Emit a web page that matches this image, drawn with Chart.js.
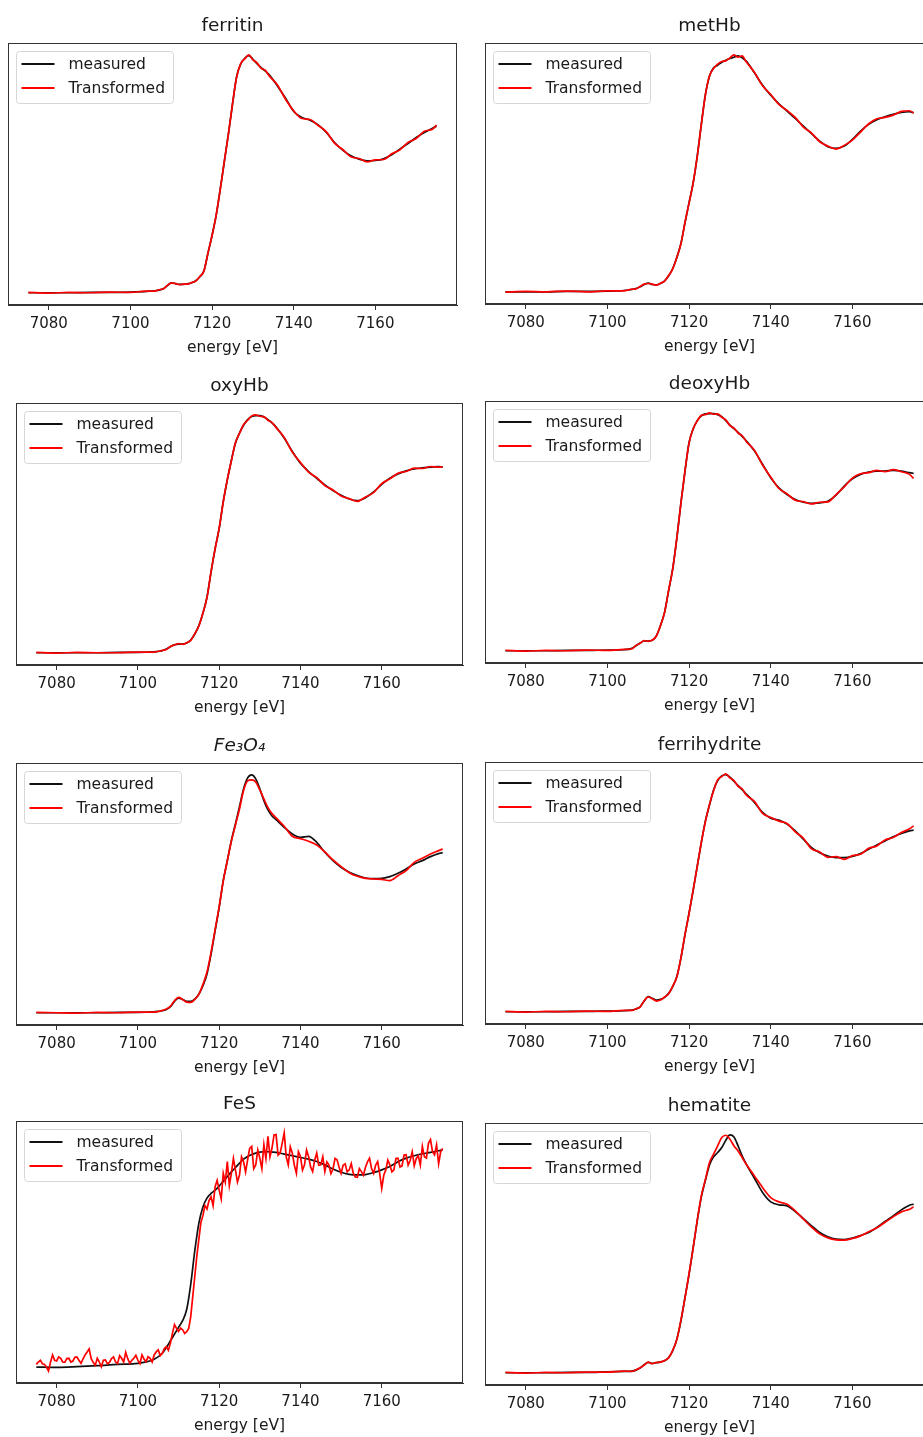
<!DOCTYPE html>
<html>
<head>
<meta charset="utf-8">
<title>measured vs Transformed XANES</title>
<script src="https://cdn.jsdelivr.net/npm/chart.js@4.4.0/dist/chart.umd.min.js"></script>
<style>
  html, body { margin: 0; padding: 0; background: #fff; }
  #page { position: relative; width: 923px; height: 1437px; overflow: hidden; }
  #page canvas { position: absolute; }
</style>
</head>
<body>
<div id="page"></div>
<script>
// energy grid (eV) shared by the smooth spectra
const energy = [7075, 7080, 7085, 7090, 7095, 7100, 7104, 7106,
  7107, 7108, 7109, 7110, 7111, 7112, 7113, 7114, 7115, 7116, 7117, 7118, 7119, 7120,
  7121, 7122, 7123, 7124, 7125, 7126, 7127, 7128, 7129, 7130, 7131, 7132, 7133, 7134,
  7136, 7138, 7140, 7142, 7144, 7146, 7148, 7150, 7152, 7154, 7156, 7158, 7160, 7162,
  7164, 7166, 7168, 7170, 7172, 7174, 7175];

const xTicks = [7080, 7100, 7120, 7140, 7160];

const ferritinMeasured = [0, 0, 0, 0.002, 0.002, 0.004, 0.008, 0.012,
  0.016, 0.024, 0.042, 0.060, 0.054, 0.050, 0.050, 0.054, 0.060, 0.072, 0.096, 0.132, 0.238, 0.346,
  0.464, 0.622, 0.788, 0.954, 1.132, 1.296, 1.372, 1.408, 1.424, 1.402, 1.376, 1.352, 1.332, 1.308,
  1.242, 1.168, 1.088, 1.052, 1.036, 1.008, 0.962, 0.902, 0.856, 0.822, 0.802, 0.792, 0.794, 0.804,
  0.828, 0.862, 0.896, 0.932, 0.962, 0.988, 1.000];
const ferritinTransformed = [0.002, -0.002, 0.002, 0, 0.004, 0.002, 0.010, 0.010,
  0.018, 0.022, 0.044, 0.058, 0.056, 0.048, 0.052, 0.052, 0.062, 0.070, 0.098, 0.130, 0.240, 0.344,
  0.466, 0.620, 0.790, 0.952, 1.134, 1.294, 1.376, 1.404, 1.428, 1.398, 1.380, 1.348, 1.336, 1.302,
  1.248, 1.162, 1.092, 1.046, 1.040, 1.004, 0.966, 0.898, 0.860, 0.816, 0.806, 0.786, 0.798, 0.800,
  0.834, 0.858, 0.902, 0.926, 0.970, 0.982, 1.006];

const metHbMeasured = [0, 0, 0, 0.002, 0.002, 0.004, 0.008, 0.014,
  0.020, 0.030, 0.044, 0.052, 0.044, 0.042, 0.050, 0.066, 0.096, 0.140, 0.206, 0.290, 0.416, 0.536,
  0.654, 0.816, 1.006, 1.186, 1.296, 1.346, 1.362, 1.380, 1.392, 1.402, 1.410, 1.418, 1.406, 1.386,
  1.316, 1.242, 1.182, 1.130, 1.086, 1.042, 0.996, 0.950, 0.906, 0.872, 0.862, 0.876, 0.916, 0.966,
  1.006, 1.034, 1.052, 1.066, 1.078, 1.082, 1.076];
const metHbTransformed = [-0.002, 0.002, 0, 0.004, 0, 0.006, 0.006, 0.016,
  0.018, 0.032, 0.046, 0.050, 0.046, 0.040, 0.052, 0.064, 0.098, 0.138, 0.208, 0.288, 0.418, 0.534,
  0.656, 0.814, 1.008, 1.184, 1.298, 1.342, 1.368, 1.384, 1.388, 1.406, 1.424, 1.410, 1.418, 1.382,
  1.320, 1.238, 1.186, 1.126, 1.090, 1.048, 0.990, 0.954, 0.902, 0.876, 0.858, 0.880, 0.912, 0.960,
  1.010, 1.040, 1.048, 1.062, 1.084, 1.088, 1.074];

const oxyHbMeasured = [0, 0, 0, 0, 0.002, 0.002, 0.006, 0.012,
  0.022, 0.036, 0.048, 0.052, 0.052, 0.058, 0.076, 0.112, 0.162, 0.236, 0.332, 0.482, 0.622, 0.742,
  0.902, 1.032, 1.148, 1.252, 1.312, 1.358, 1.392, 1.410, 1.416, 1.416, 1.408, 1.392, 1.372, 1.348,
  1.282, 1.202, 1.132, 1.082, 1.042, 1.002, 0.968, 0.940, 0.918, 0.908, 0.926, 0.960, 1.006, 1.042,
  1.068, 1.086, 1.098, 1.104, 1.108, 1.112, 1.108];
const oxyHbTransformed = [0.002, -0.002, 0.002, 0, 0, 0.004, 0.004, 0.014,
  0.020, 0.038, 0.046, 0.054, 0.050, 0.060, 0.074, 0.114, 0.160, 0.238, 0.330, 0.484, 0.620, 0.744,
  0.900, 1.034, 1.146, 1.254, 1.310, 1.362, 1.388, 1.414, 1.420, 1.412, 1.410, 1.388, 1.374, 1.344,
  1.286, 1.198, 1.136, 1.078, 1.046, 0.998, 0.972, 0.936, 0.920, 0.904, 0.930, 0.956, 1.010, 1.038,
  1.072, 1.082, 1.102, 1.100, 1.112, 1.108, 1.110];

const deoxyHbMeasured = [0, 0, 0, 0.002, 0.002, 0.004, 0.006, 0.014,
  0.030, 0.046, 0.058, 0.058, 0.062, 0.090, 0.150, 0.230, 0.360, 0.490, 0.670, 0.880, 1.070, 1.240,
  1.320, 1.370, 1.398, 1.410, 1.412, 1.412, 1.406, 1.394, 1.370, 1.344, 1.322, 1.300, 1.276, 1.250,
  1.190, 1.110, 1.030, 0.970, 0.930, 0.900, 0.884, 0.878, 0.880, 0.890, 0.926, 0.980, 1.024, 1.050,
  1.064, 1.070, 1.070, 1.074, 1.070, 1.060, 1.056];
const deoxyHbTransformed = [0.002, -0.002, 0.002, 0, 0.004, 0.002, 0.008, 0.012,
  0.032, 0.044, 0.060, 0.056, 0.064, 0.088, 0.152, 0.228, 0.362, 0.488, 0.672, 0.878, 1.072, 1.238,
  1.322, 1.368, 1.402, 1.406, 1.416, 1.408, 1.410, 1.390, 1.374, 1.340, 1.326, 1.296, 1.280, 1.246,
  1.194, 1.106, 1.034, 0.966, 0.934, 0.896, 0.888, 0.874, 0.884, 0.886, 0.930, 0.976, 1.028, 1.054,
  1.060, 1.074, 1.066, 1.078, 1.066, 1.050, 1.026];

const fe3o4Measured = [0, 0, 0, 0, 0.002, 0.002, 0.006, 0.012,
  0.020, 0.036, 0.068, 0.088, 0.080, 0.068, 0.068, 0.082, 0.112, 0.162, 0.232, 0.352, 0.492, 0.632,
  0.792, 0.912, 1.032, 1.132, 1.236, 1.342, 1.408, 1.426, 1.402, 1.342, 1.272, 1.216, 1.180, 1.158,
  1.112, 1.072, 1.052, 1.058, 1.022, 0.962, 0.912, 0.872, 0.842, 0.822, 0.808, 0.804, 0.806, 0.816,
  0.836, 0.862, 0.892, 0.912, 0.936, 0.954, 0.960];
const fe3o4Transformed = [0.002, 0, -0.002, 0.002, 0, 0.004, 0.004, 0.014,
  0.022, 0.040, 0.072, 0.092, 0.080, 0.064, 0.062, 0.080, 0.110, 0.170, 0.244, 0.362, 0.498, 0.636,
  0.790, 0.910, 1.028, 1.126, 1.222, 1.332, 1.390, 1.396, 1.384, 1.336, 1.282, 1.230, 1.194, 1.168,
  1.118, 1.058, 1.044, 1.028, 1.006, 0.964, 0.916, 0.876, 0.840, 0.818, 0.806, 0.802, 0.800, 0.792,
  0.822, 0.852, 0.902, 0.926, 0.952, 0.972, 0.982];

const ferrihydriteMeasured = [0, 0, 0, 0.002, 0.002, 0.004, 0.006, 0.010,
  0.016, 0.030, 0.064, 0.090, 0.080, 0.070, 0.074, 0.086, 0.110, 0.150, 0.210, 0.320, 0.460, 0.590,
  0.725, 0.870, 1.010, 1.140, 1.234, 1.324, 1.380, 1.408, 1.416, 1.400, 1.376, 1.350, 1.326, 1.300,
  1.250, 1.190, 1.156, 1.144, 1.120, 1.080, 1.030, 0.980, 0.950, 0.930, 0.920, 0.920, 0.928, 0.944,
  0.970, 0.996, 1.020, 1.044, 1.064, 1.080, 1.084];
const ferrihydriteTransformed = [0.002, -0.002, 0.002, 0, 0.004, 0.002, 0.008, 0.008,
  0.018, 0.028, 0.066, 0.088, 0.078, 0.064, 0.070, 0.088, 0.108, 0.154, 0.208, 0.322, 0.462, 0.588,
  0.728, 0.868, 1.012, 1.136, 1.238, 1.320, 1.384, 1.404, 1.420, 1.396, 1.380, 1.346, 1.330, 1.294,
  1.256, 1.184, 1.160, 1.138, 1.124, 1.074, 1.036, 0.972, 0.954, 0.922, 0.926, 0.910, 0.932, 0.940,
  0.976, 0.990, 1.026, 1.040, 1.070, 1.092, 1.110];

const fesMeasured = [0, -0.002, 0.002, 0.008, 0.016, 0.022, 0.046, 0.082,
  0.116, 0.156, 0.196, 0.236, 0.276, 0.342, 0.492, 0.692, 0.856, 0.952, 1.004, 1.032, 1.052, 1.076,
  1.104, 1.132, 1.160, 1.186, 1.212, 1.236, 1.252, 1.264, 1.272, 1.278, 1.280, 1.280, 1.278, 1.276,
  1.266, 1.256, 1.246, 1.236, 1.222, 1.202, 1.178, 1.158, 1.146, 1.142, 1.144, 1.156, 1.172, 1.192,
  1.220, 1.242, 1.256, 1.268, 1.276, 1.286, 1.292];
// the FeS transformed spectrum is noisy, so it keeps its own 0.5 eV grid
const fesTransformedEnergy = [
  7075, 7075.5, 7076, 7076.5, 7077, 7077.5, 7078, 7078.5, 7079, 7079.5,
  7080, 7080.5, 7081, 7081.5, 7082, 7082.5, 7083, 7083.5, 7084, 7084.5,
  7085, 7085.5, 7086, 7086.5, 7087, 7087.5, 7088, 7088.5, 7089, 7089.5,
  7090, 7090.5, 7091, 7091.5, 7092, 7092.5, 7093, 7093.5, 7094, 7094.5,
  7095, 7095.5, 7096, 7096.5, 7097, 7097.5, 7098, 7098.5, 7099, 7099.5,
  7100, 7100.5, 7101, 7101.5, 7102, 7102.5, 7103, 7103.5, 7104, 7104.5,
  7105, 7105.5, 7106, 7106.5, 7107, 7107.5, 7108, 7108.5, 7109, 7109.5,
  7110, 7110.5, 7111, 7111.5, 7112, 7112.5, 7113, 7113.5, 7114, 7114.5,
  7115, 7115.5, 7116, 7116.5, 7117, 7117.5, 7118, 7118.5, 7119, 7119.5,
  7120, 7120.5, 7121, 7121.5, 7122, 7122.5, 7123, 7123.5, 7124, 7124.5,
  7125, 7125.5, 7126, 7126.5, 7127, 7127.5, 7128, 7128.5, 7129, 7129.5,
  7130, 7130.5, 7131, 7131.5, 7132, 7132.5, 7133, 7133.5, 7134, 7134.5,
  7135, 7135.5, 7136, 7136.5, 7137, 7137.5, 7138, 7138.5, 7139, 7139.5,
  7140, 7140.5, 7141, 7141.5, 7142, 7142.5, 7143, 7143.5, 7144, 7144.5,
  7145, 7145.5, 7146, 7146.5, 7147, 7147.5, 7148, 7148.5, 7149, 7149.5,
  7150, 7150.5, 7151, 7151.5, 7152, 7152.5, 7153, 7153.5, 7154, 7154.5,
  7155, 7155.5, 7156, 7156.5, 7157, 7157.5, 7158, 7158.5, 7159, 7159.5,
  7160, 7160.5, 7161, 7161.5, 7162, 7162.5, 7163, 7163.5, 7164, 7164.5,
  7165, 7165.5, 7166, 7166.5, 7167, 7167.5, 7168, 7168.5, 7169, 7169.5,
  7170, 7170.5, 7171, 7171.5, 7172, 7172.5, 7173, 7173.5, 7174, 7174.5, 7175];
const fesTransformed = [
  0.016, 0.030, 0.040, 0.020, 0.016, 0.000, -0.024, 0.030, 0.072, 0.040,
  0.036, 0.060, 0.052, 0.030, 0.028, 0.050, 0.052, 0.030, 0.036, 0.058,
  0.060, 0.040, 0.022, 0.048, 0.072, 0.090, 0.108, 0.050, 0.028, 0.010,
  0.052, 0.030, 0.002, 0.040, 0.042, 0.018, 0.028, 0.050, 0.060, 0.030,
  0.022, 0.068, 0.052, 0.030, 0.088, 0.050, 0.022, 0.040, 0.052, 0.070,
  0.040, 0.020, 0.072, 0.048, 0.032, 0.062, 0.052, 0.030, 0.072, 0.090,
  0.102, 0.068, 0.082, 0.110, 0.122, 0.100, 0.142, 0.200, 0.252, 0.230,
  0.212, 0.232, 0.222, 0.200, 0.210, 0.230, 0.300, 0.420, 0.540, 0.660,
  0.760, 0.860, 0.900, 0.960, 0.940, 0.990, 1.012, 0.960, 1.072, 1.110,
  1.052, 1.000, 1.152, 1.100, 1.222, 1.080, 1.152, 1.240, 1.172, 1.100,
  1.142, 1.250, 1.222, 1.160, 1.232, 1.300, 1.312, 1.180, 1.202, 1.290,
  1.242, 1.180, 1.322, 1.240, 1.372, 1.250, 1.302, 1.380, 1.382, 1.260,
  1.272, 1.330, 1.392, 1.250, 1.202, 1.310, 1.272, 1.200, 1.152, 1.280,
  1.252, 1.170, 1.202, 1.290, 1.252, 1.190, 1.162, 1.230, 1.272, 1.200,
  1.202, 1.250, 1.162, 1.220, 1.202, 1.150, 1.176, 1.240, 1.232, 1.190,
  1.152, 1.200, 1.208, 1.160, 1.172, 1.210, 1.152, 1.130, 1.128, 1.180,
  1.162, 1.140, 1.188, 1.220, 1.242, 1.180, 1.152, 1.200, 1.222, 1.150,
  1.062, 1.140, 1.172, 1.230, 1.202, 1.160, 1.172, 1.240, 1.242, 1.190,
  1.196, 1.260, 1.262, 1.200, 1.228, 1.280, 1.196, 1.240, 1.256, 1.200,
  1.312, 1.250, 1.242, 1.330, 1.352, 1.280, 1.262, 1.320, 1.208, 1.280, 1.300];

const hematiteMeasured = [0, 0, 0, 0.002, 0.002, 0.006, 0.008, 0.010,
  0.016, 0.028, 0.048, 0.062, 0.056, 0.060, 0.066, 0.072, 0.092, 0.132, 0.202, 0.312, 0.452, 0.592,
  0.752, 0.912, 1.056, 1.156, 1.248, 1.296, 1.322, 1.352, 1.396, 1.428, 1.416, 1.362, 1.302, 1.252,
  1.168, 1.082, 1.026, 1.008, 1.002, 0.968, 0.926, 0.882, 0.842, 0.816, 0.802, 0.800, 0.808, 0.824,
  0.842, 0.872, 0.908, 0.942, 0.978, 1.006, 1.012];
const hematiteTransformed = [0.002, -0.002, 0.002, 0, 0.004, 0.004, 0.010, 0.008,
  0.018, 0.030, 0.046, 0.064, 0.054, 0.062, 0.064, 0.074, 0.090, 0.136, 0.200, 0.316, 0.450, 0.596,
  0.750, 0.916, 1.062, 1.160, 1.262, 1.312, 1.362, 1.412, 1.426, 1.402, 1.362, 1.332, 1.292, 1.252,
  1.182, 1.112, 1.052, 1.026, 1.012, 0.972, 0.922, 0.874, 0.834, 0.810, 0.798, 0.796, 0.806, 0.822,
  0.846, 0.870, 0.904, 0.936, 0.966, 0.982, 0.996];

// panel placement: [left, top, width, height] of each axes box in page pixels
const panels = [
  { title: 'ferritin', measured: ferritinMeasured, transformed: ferritinTransformed, box: [8, 43, 449, 262] },
  { title: 'metHb', measured: metHbMeasured, transformed: metHbTransformed, box: [485, 43, 449, 261] },
  { title: 'oxyHb', measured: oxyHbMeasured, transformed: oxyHbTransformed, box: [16, 403, 447, 262] },
  { title: 'deoxyHb', measured: deoxyHbMeasured, transformed: deoxyHbTransformed, box: [485, 401, 449, 262] },
  { title: 'Fe₃O₄', italic: true, measured: fe3o4Measured, transformed: fe3o4Transformed, box: [16, 763, 447, 262] },
  { title: 'ferrihydrite', measured: ferrihydriteMeasured, transformed: ferrihydriteTransformed, box: [485, 762, 449, 262] },
  { title: 'FeS', measured: fesMeasured, transformed: fesTransformed, transformedEnergy: fesTransformedEnergy, noisy: true, box: [16, 1121, 447, 262] },
  { title: 'hematite', measured: hematiteMeasured, transformed: hematiteTransformed, box: [485, 1123, 449, 262] }
];

const FONT = "'DejaVu Sans', sans-serif";
const TEXT = '#1a1a1a';
const TOP = 40, BOTTOM = 56, SIDE = 10;

function toPoints(xs, ys) {
  return xs.map((x, i) => ({ x: x, y: ys[i] }));
}

// matplotlib-style autoscale: 5% margin around the data
function yBounds(a, b) {
  const all = a.concat(b);
  const lo = Math.min(...all), hi = Math.max(...all);
  const pad = (hi - lo) * 0.05;
  return { min: lo - pad, max: hi + pad };
}

// full box around the axes
const frame = {
  id: 'frame',
  afterDatasetsDraw(chart) {
    const { ctx, chartArea: a } = chart;
    ctx.save();
    ctx.strokeStyle = '#333';
    ctx.lineWidth = 1;
    ctx.strokeRect(Math.round(a.left) + 0.5, Math.round(a.top) + 0.5,
      Math.round(a.width) - 1, Math.round(a.height) - 1);
    ctx.restore();
  }
};

// legend in the upper left corner of the axes
const legendBox = {
  id: 'legendBox',
  afterDatasetsDraw(chart) {
    const { ctx, chartArea: a } = chart;
    const x = Math.round(a.left) + 8.5, y = Math.round(a.top) + 8.5, w = 157, h = 52, r = 3;
    ctx.save();
    ctx.beginPath();
    ctx.moveTo(x + r, y);
    ctx.arcTo(x + w, y, x + w, y + h, r);
    ctx.arcTo(x + w, y + h, x, y + h, r);
    ctx.arcTo(x, y + h, x, y, r);
    ctx.arcTo(x, y, x + w, y, r);
    ctx.closePath();
    ctx.fillStyle = 'rgba(255,255,255,0.8)';
    ctx.fill();
    ctx.strokeStyle = '#d6d6d6';
    ctx.lineWidth = 1;
    ctx.stroke();
    chart.data.datasets.forEach((ds, i) => {
      const cy = y + 12.5 + i * 24;
      ctx.beginPath();
      ctx.moveTo(x + 5, cy);
      ctx.lineTo(x + 38, cy);
      ctx.strokeStyle = ds.borderColor;
      ctx.lineWidth = 2.2;
      ctx.stroke();
      ctx.fillStyle = TEXT;
      ctx.font = '15.5px ' + FONT;
      ctx.textBaseline = 'middle';
      ctx.fillText(ds.label, x + 52, cy + 1);
    });
    ctx.restore();
  }
};

const page = document.getElementById('page');

panels.forEach(p => {
  const [L, T, W, H] = p.box;
  const canvas = document.createElement('canvas');
  canvas.width = W + 2 * SIDE;
  canvas.height = TOP + H + BOTTOM;
  canvas.style.left = (L - SIDE) + 'px';
  canvas.style.top = (T - TOP) + 'px';
  page.appendChild(canvas);

  const yb = yBounds(p.measured, p.transformed);

  new Chart(canvas, {
    type: 'line',
    data: {
      datasets: [
        {
          label: 'measured',
          data: toPoints(energy, p.measured),
          borderColor: '#111111',
          borderWidth: 1.7,
          pointRadius: 0,
          cubicInterpolationMode: 'monotone',
          order: 1
        },
        {
          label: 'Transformed',
          data: toPoints(p.transformedEnergy || energy, p.transformed),
          borderColor: '#ff0000',
          borderWidth: 1.7,
          pointRadius: 0,
          cubicInterpolationMode: p.noisy ? 'default' : 'monotone',
          tension: 0,
          order: 0
        }
      ]
    },
    options: {
      responsive: false,
      animation: false,
      devicePixelRatio: 1,
      events: [],
      layout: { padding: { left: SIDE, right: SIDE, top: 0, bottom: 0 } },
      plugins: {
        legend: { display: false },
        tooltip: { enabled: false },
        title: {
          display: true,
          text: p.title,
          color: TEXT,
          font: { family: FONT, size: 18.5, weight: 'normal', style: p.italic ? 'italic' : 'normal', lineHeight: 1.2 },
          padding: { top: 12.5, bottom: 5.3 }
        }
      },
      scales: {
        x: {
          type: 'linear',
          min: 7070,
          max: 7180,
          afterBuildTicks: s => { s.ticks = xTicks.map(v => ({ value: v })); },
          afterFit: s => { s.height = BOTTOM; },
          ticks: {
            callback: v => String(v),
            color: TEXT,
            font: { family: FONT, size: 15 },
            padding: 5,
            maxRotation: 0,
            autoSkip: false
          },
          grid: { display: true, drawOnChartArea: false, drawTicks: true, tickLength: 5, color: '#333' },
          border: { display: true, color: '#333', width: 1 },
          title: {
            display: true,
            text: 'energy [eV]',
            color: TEXT,
            font: { family: FONT, size: 15.5 },
            padding: { top: 0, bottom: 3.4 }
          }
        },
        y: { display: false, min: yb.min, max: yb.max }
      }
    },
    plugins: [frame, legendBox]
  });
});
</script>
</body>
</html>
